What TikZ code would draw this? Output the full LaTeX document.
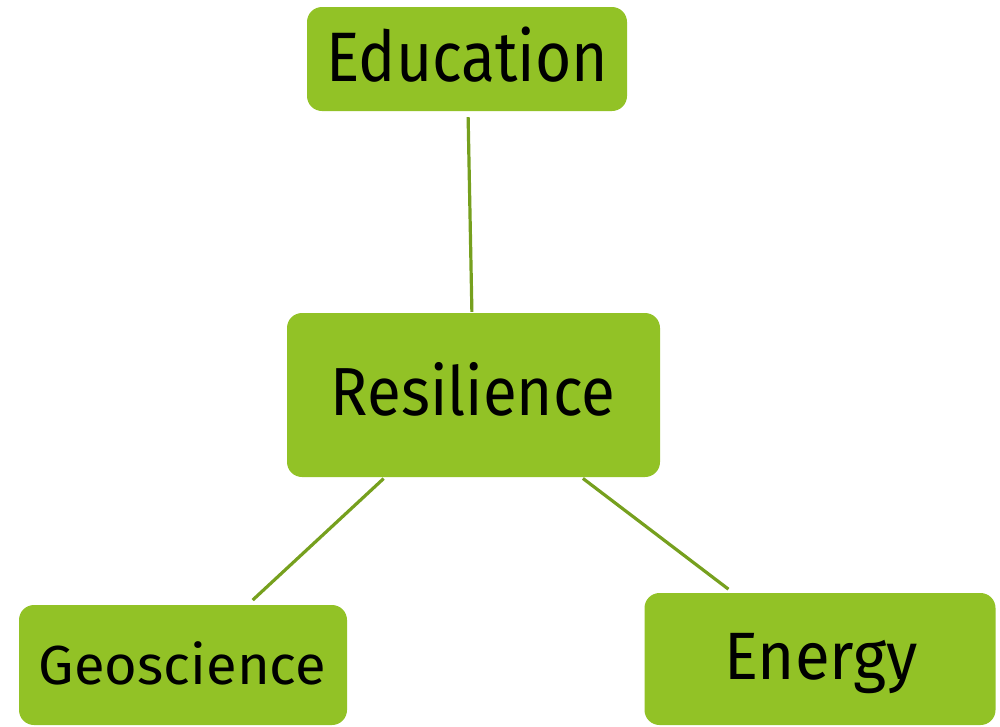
\documentclass[tikz,border=0pt]{standalone}
\usepackage{fontspec}
\usepackage{graphicx}
\setmainfont{Fira Sans}
\definecolor{boxgreen}{RGB}{146,194,38}
\definecolor{linegreen}{RGB}{118,160,30}
\tikzset{
  box/.style={fill=boxgreen, rounded corners=15pt, inner sep=0pt, draw=none},
  lbl/.style={anchor=base, inner sep=0pt, text=black},
  link/.style={draw=linegreen, line width=3.2pt},
}
\begin{document}
\begin{tikzpicture}[x=1pt,y=-1pt]
\useasboundingbox (0,0) rectangle (1000,726);
% boxes
\node[box, minimum width=320pt, minimum height=104pt] (edu) at (467,59) {};
\node[box, minimum width=373pt, minimum height=164pt] (res) at (473.5,395) {};
\node[box, minimum width=328pt, minimum height=120pt] (geo) at (183,665) {};
\node[box, minimum width=351pt, minimum height=132pt] (ene) at (820,659) {};
% labels
\node[lbl, font=\fontsize{70}{70}\selectfont] (eduT) at (467.5,81) {\scalebox{0.89}[1]{Education}};
\node[lbl, font=\fontsize{68}{68}\selectfont] (resT) at (473,415) {\scalebox{0.91}[1]{Resilience}};
\node[lbl, font=\fontsize{55}{55}\selectfont] (geoT) at (182.5,684) {\scalebox{1.02}[1]{Geoscience}};
\node[lbl, font=\fontsize{67}{67}\selectfont] (eneT) at (821,679) {\scalebox{0.95}[1]{Energy}};
% connectors
\draw[link, shorten <=6pt, shorten >=1pt] (edu) -- (res);
\draw[link, shorten <=2pt, shorten >=7pt] (res) -- (geo);
\draw[link, shorten <=2pt, shorten >=6pt] (res) -- (ene);
\end{tikzpicture}
\end{document}
